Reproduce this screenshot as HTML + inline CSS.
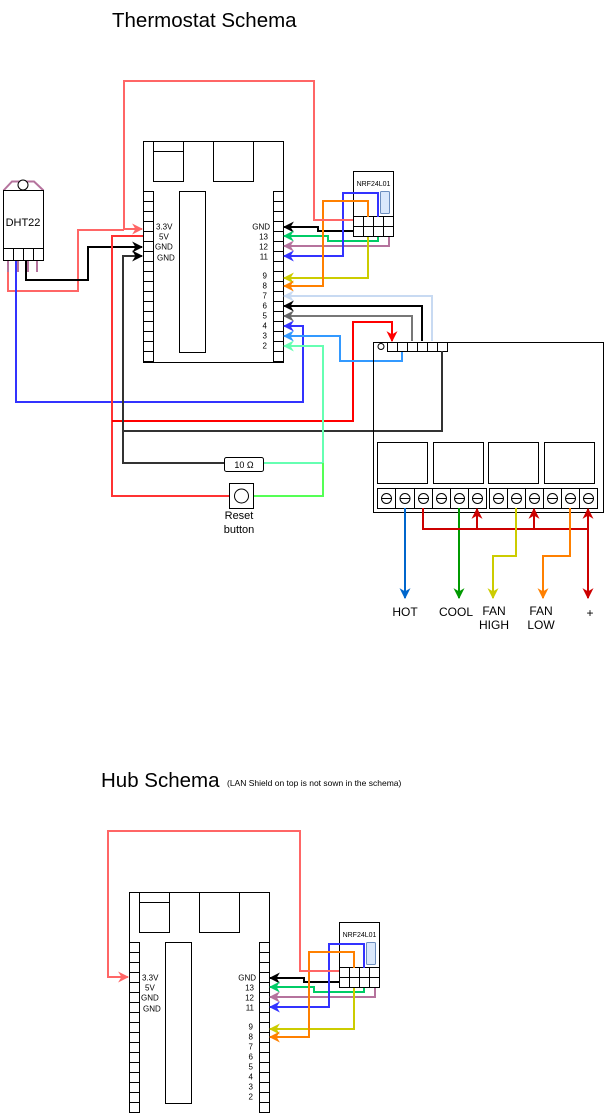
<!DOCTYPE html>
<html><head><meta charset="utf-8"><style>
html,body{margin:0;padding:0;background:#fff;}
svg{display:block;font-family:"Liberation Sans",Arial,sans-serif;}
</style></head><body>
<svg width="614" height="1113" viewBox="0 0 614 1113" xmlns="http://www.w3.org/2000/svg">
<defs>
<pattern id="pins" patternUnits="userSpaceOnUse" x="0" y="1" width="10" height="10"><line x1="0" y1="0.5" x2="10" y2="0.5" stroke="#000" stroke-width="1"/></pattern>
<pattern id="cells" patternUnits="userSpaceOnUse" x="3" y="0" width="10" height="10"><line x1="0.5" y1="0" x2="0.5" y2="10" stroke="#000" stroke-width="1"/></pattern>
<pattern id="cells2" patternUnits="userSpaceOnUse" x="7" y="0" width="10" height="10"><line x1="0.5" y1="0" x2="0.5" y2="10" stroke="#000" stroke-width="1"/></pattern>
<marker id="mk" viewBox="0 0 10 10" refX="9" refY="5" markerUnits="userSpaceOnUse" markerWidth="11" markerHeight="11" orient="auto"><path d="M0,0 L10,5 L0,10 L3,5z" fill="#000"/></marker>
<marker id="mg" viewBox="0 0 10 10" refX="9" refY="5" markerUnits="userSpaceOnUse" markerWidth="11" markerHeight="11" orient="auto"><path d="M0,0 L10,5 L0,10 L3,5z" fill="#00cc66"/></marker>
<marker id="mp" viewBox="0 0 10 10" refX="9" refY="5" markerUnits="userSpaceOnUse" markerWidth="11" markerHeight="11" orient="auto"><path d="M0,0 L10,5 L0,10 L3,5z" fill="#b5739d"/></marker>
<marker id="mb" viewBox="0 0 10 10" refX="9" refY="5" markerUnits="userSpaceOnUse" markerWidth="11" markerHeight="11" orient="auto"><path d="M0,0 L10,5 L0,10 L3,5z" fill="#3333ff"/></marker>
<marker id="my" viewBox="0 0 10 10" refX="9" refY="5" markerUnits="userSpaceOnUse" markerWidth="11" markerHeight="11" orient="auto"><path d="M0,0 L10,5 L0,10 L3,5z" fill="#cccc00"/></marker>
<marker id="mo" viewBox="0 0 10 10" refX="9" refY="5" markerUnits="userSpaceOnUse" markerWidth="11" markerHeight="11" orient="auto"><path d="M0,0 L10,5 L0,10 L3,5z" fill="#ff8000"/></marker>
<marker id="mgr" viewBox="0 0 10 10" refX="9" refY="5" markerUnits="userSpaceOnUse" markerWidth="11" markerHeight="11" orient="auto"><path d="M0,0 L10,5 L0,10 L3,5z" fill="#666"/></marker>
<marker id="mr" viewBox="0 0 10 10" refX="9" refY="5" markerUnits="userSpaceOnUse" markerWidth="11" markerHeight="11" orient="auto"><path d="M0,0 L10,5 L0,10 L3,5z" fill="#ff0000"/></marker>
<marker id="mlb" viewBox="0 0 10 10" refX="9" refY="5" markerUnits="userSpaceOnUse" markerWidth="11" markerHeight="11" orient="auto"><path d="M0,0 L10,5 L0,10 L3,5z" fill="#3399ff"/></marker>
<marker id="maq" viewBox="0 0 10 10" refX="9" refY="5" markerUnits="userSpaceOnUse" markerWidth="11" markerHeight="11" orient="auto"><path d="M0,0 L10,5 L0,10 L3,5z" fill="#66ffb2"/></marker>
<marker id="mpk" viewBox="0 0 10 10" refX="9" refY="5" markerUnits="userSpaceOnUse" markerWidth="11" markerHeight="11" orient="auto"><path d="M0,0 L10,5 L0,10 L3,5z" fill="#ff6666"/></marker>
<marker id="mdr" viewBox="0 0 10 10" refX="9" refY="5" markerUnits="userSpaceOnUse" markerWidth="11" markerHeight="11" orient="auto"><path d="M0,0 L10,5 L0,10 L3,5z" fill="#cc0000"/></marker>
<marker id="mhb" viewBox="0 0 10 10" refX="9" refY="5" markerUnits="userSpaceOnUse" markerWidth="11" markerHeight="11" orient="auto"><path d="M0,0 L10,5 L0,10 L3,5z" fill="#0066cc"/></marker>
<marker id="mc" viewBox="0 0 10 10" refX="9" refY="5" markerUnits="userSpaceOnUse" markerWidth="11" markerHeight="11" orient="auto"><path d="M0,0 L10,5 L0,10 L3,5z" fill="#009900"/></marker>
<marker id="mlc" viewBox="0 0 10 10" refX="9" refY="5" markerUnits="userSpaceOnUse" markerWidth="11" markerHeight="11" orient="auto"><path d="M0,0 L10,5 L0,10 L3,5z" fill="#c8daf2"/></marker>

<g id="ard">
  <rect x="143.5" y="141.5" width="140" height="221" fill="#fff" stroke="#000"/>
  <rect x="153.5" y="141.5" width="30" height="40" fill="none" stroke="#000"/>
  <line x1="153.5" y1="151.5" x2="183.5" y2="151.5" stroke="#000"/>
  <rect x="213.5" y="141.5" width="40" height="40" fill="none" stroke="#000"/>
  <rect x="179.5" y="191.5" width="26" height="161" fill="none" stroke="#000"/>
  <rect x="143.5" y="191.5" width="10" height="171" fill="url(#pins)" stroke="#000"/>
  <rect x="273.5" y="191.5" width="10" height="171" fill="url(#pins)" stroke="#000"/>
  <g font-size="8" fill="#000">
    <text x="156" y="229.5">3.3V</text>
    <text x="159" y="239.5">5V</text>
    <text x="155" y="249.5">GND</text>
    <text x="157" y="260.5">GND</text>
    <g text-anchor="end">
      <text x="270" y="229.5">GND</text>
      <text x="268" y="239.5">13</text>
      <text x="268" y="249.5">12</text>
      <text x="268" y="259.5">11</text>
      <text x="267" y="278.5">9</text>
      <text x="267" y="288.5">8</text>
      <text x="267" y="298.5">7</text>
      <text x="267" y="308.5">6</text>
      <text x="267" y="318.5">5</text>
      <text x="267" y="328.5">4</text>
      <text x="267" y="338.5">3</text>
      <text x="267" y="348.5">2</text>
    </g>
  </g>
  <rect x="353.5" y="171.5" width="40" height="65" fill="#fff" stroke="#000"/>
  <text x="373.5" y="186" font-size="7" text-anchor="middle">NRF24L01</text>
  <rect x="380.5" y="191.5" width="9" height="22" rx="1" fill="#dae8fc" stroke="#6c8ebf"/>
  <rect x="353.5" y="216.5" width="40" height="20" fill="url(#cells)" stroke="#000"/>
  <line x1="353.5" y1="226.5" x2="393.5" y2="226.5" stroke="#000"/>
  <g fill="none" stroke-width="2">
    <path d="M353,231 H318 V227 H284" stroke="#000" marker-end="url(#mk)"/>
    <path d="M378,237 V241 H328 V236 H284" stroke="#00cc66" marker-end="url(#mg)"/>
    <path d="M389,237 V246 H284" stroke="#b5739d" marker-end="url(#mp)"/>
    <path d="M378,217 V193 H343 V256 H284" stroke="#3333ff" marker-end="url(#mb)"/>
    <path d="M368,237 V278 H284" stroke="#cccc00" marker-end="url(#my)"/>
    <path d="M368,217 V201 H323 V286 H284" stroke="#ff8000" marker-end="url(#mo)"/>
  </g>
</g>
</defs>

<text x="112" y="27" font-size="20.5">Thermostat Schema</text>
<use href="#ard"/>

<g fill="none" stroke-width="2">
  <path d="M353,220 H314 V81 H124 V229 H142" stroke="#ff6666" marker-end="url(#mpk)"/>
  <path d="M8,262 V291 H78 V230 H124" stroke="#ff6666"/>
</g>

<path d="M3.5,190.5 L12,181.5 H34 L43.5,190.5" fill="none" stroke="#b5739d" stroke-width="2"/>
<circle cx="23" cy="185" r="5" fill="#fff" stroke="#000"/>
<rect x="3.5" y="190.5" width="40" height="58" fill="#fff" stroke="#000"/>
<text x="23" y="226" font-size="11" text-anchor="middle">DHT22</text>
<rect x="3.5" y="248.5" width="40" height="12" fill="url(#cells)" stroke="#000"/>
<g stroke="#b5739d" stroke-width="2"><line x1="8" y1="261" x2="8" y2="272"/><line x1="18" y1="261" x2="18" y2="272"/><line x1="28" y1="261" x2="28" y2="272"/><line x1="37" y1="261" x2="37" y2="272"/></g>

<g fill="none" stroke-width="2">
  <path d="M26,261 V280 H88 V247 H142" stroke="#000" marker-end="url(#mk)"/>
  <path d="M16,261 V402 H303 V326 H284" stroke="#3333ff" marker-end="url(#mb)"/>
  <path d="M143,236 H112 V496 H229" stroke="#ff3333"/>
  <path d="M112,421 H353 V322 H392 V341" stroke="#ff0000" marker-end="url(#mr)"/>
  <path d="M442,351 V431 H123 V256 H142" stroke="#333" marker-end="url(#mk)"/>
  <path d="M123,431 V463 H224" stroke="#333"/>
  <path d="M432,341 V296 H284" stroke="#c8daf2" marker-end="url(#mlc)"/>
  <path d="M422,341 V306 H284" stroke="#000" marker-end="url(#mk)"/>
  <path d="M412,341 V316 H284" stroke="#777" marker-end="url(#mgr)"/>
  <path d="M402,351 V361 H340 V336 H284" stroke="#3399ff" marker-end="url(#mlb)"/>
  <path d="M263,463 H323 V346 H284" stroke="#66ffb2" marker-end="url(#maq)"/>
  <path d="M253,496 H323 V463" stroke="#55ff55"/>
</g>

<rect x="224.5" y="457.5" width="39" height="14" rx="2" fill="#fff" stroke="#000"/>
<text x="244" y="468" font-size="9" text-anchor="middle">10 Ω</text>
<rect x="229.5" y="483.5" width="24" height="25" fill="#fff" stroke="#000"/>
<circle cx="241.5" cy="496" r="7" fill="#fff" stroke="#000"/>
<text x="239" y="519" font-size="11" text-anchor="middle">Reset</text>
<text x="239" y="533" font-size="11" text-anchor="middle">button</text>

<rect x="373.5" y="342.5" width="230" height="170" fill="none" stroke="#000"/>
<circle cx="381" cy="346.5" r="3" fill="#fff" stroke="#000"/>
<rect x="387.5" y="342.5" width="60" height="9" fill="url(#cells2)" stroke="#000"/>
<path d="M442,351 V431" fill="none" stroke="#333" stroke-width="2"/>
<g fill="none" stroke="#000">
  <rect x="377.5" y="442.5" width="50" height="41"/>
  <rect x="433.5" y="442.5" width="50" height="41"/>
  <rect x="488.5" y="442.5" width="50" height="41"/>
  <rect x="544.5" y="442.5" width="50" height="41"/>
  <rect x="377.5" y="488.5" width="109" height="20"/>
  <rect x="489.5" y="488.5" width="108" height="20"/>
  <path d="M395.5,488.5v20M414.5,488.5v20M432.5,488.5v20M450.5,488.5v20M468.5,488.5v20M507.5,488.5v20M525.5,488.5v20M543.5,488.5v20M561.5,488.5v20M579.5,488.5v20"/>
</g>
<g fill="#fff" stroke="#000">
  <circle cx="386.5" cy="498.5" r="5"/><circle cx="405" cy="498.5" r="5"/><circle cx="423.5" cy="498.5" r="5"/><circle cx="441.5" cy="498.5" r="5"/><circle cx="459.5" cy="498.5" r="5"/><circle cx="477.5" cy="498.5" r="5"/>
  <circle cx="498.5" cy="498.5" r="5"/><circle cx="516.5" cy="498.5" r="5"/><circle cx="534.5" cy="498.5" r="5"/><circle cx="552.5" cy="498.5" r="5"/><circle cx="570.5" cy="498.5" r="5"/><circle cx="588.5" cy="498.5" r="5"/>
</g>
<path d="M381.5,498.5h10M400,498.5h10M418.5,498.5h10M436.5,498.5h10M454.5,498.5h10M472.5,498.5h10M493.5,498.5h10M511.5,498.5h10M529.5,498.5h10M547.5,498.5h10M565.5,498.5h10M583.5,498.5h10" stroke="#000"/>

<g fill="none" stroke-width="2">
  <path d="M405,508 V598" stroke="#0066cc" marker-end="url(#mhb)"/>
  <path d="M459,508 V598" stroke="#009900" marker-end="url(#mc)"/>
  <path d="M423,508 V529 H588" stroke="#cc0000"/>
  <path d="M477,529 V509" stroke="#cc0000" marker-end="url(#mdr)"/>
  <path d="M534,529 V509" stroke="#cc0000" marker-end="url(#mdr)"/>
  <path d="M588,529 V509" stroke="#cc0000" marker-end="url(#mdr)"/>
  <path d="M588,529 V598" stroke="#cc0000" marker-end="url(#mdr)"/>
  <path d="M516,508 V556 H493 V598" stroke="#cccc00" marker-end="url(#my)"/>
  <path d="M570,508 V556 H543 V598" stroke="#ff8000" marker-end="url(#mo)"/>
</g>
<g font-size="12" text-anchor="middle">
  <text x="405" y="616">HOT</text>
  <text x="456" y="616">COOL</text>
  <text x="494" y="615">FAN</text><text x="494" y="629">HIGH</text>
  <text x="541" y="615">FAN</text><text x="541" y="629">LOW</text>
  <text x="590" y="617">+</text>
</g>

<text x="101" y="787" font-size="20.5">Hub Schema</text>
<text x="227" y="786" font-size="8.5">(LAN Shield on top is not sown in the schema)</text>
<g transform="translate(-14,751)">
  <use href="#ard"/>
  <path d="M353,220 H314 V80 H122 V226 H142" fill="none" stroke="#ff6666" stroke-width="2" marker-end="url(#mpk)"/>
</g>
</svg>
</body></html>
